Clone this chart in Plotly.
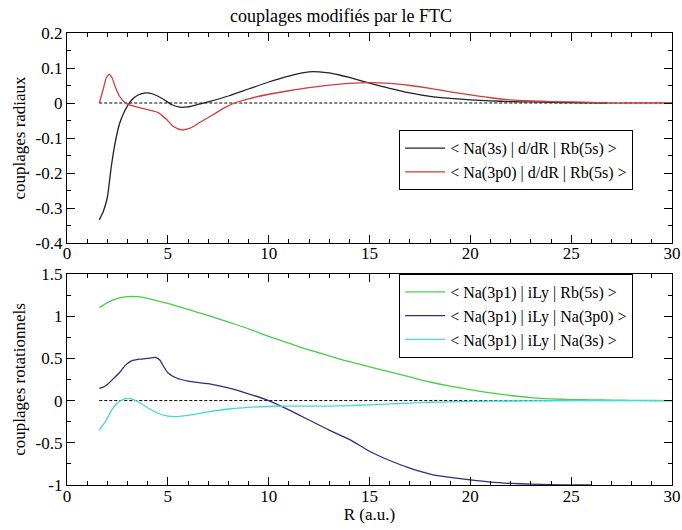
import plotly.graph_objects as go

# ---- data ----
x_na3s_rad = [1.6, 1.8, 2.0, 2.2, 2.4, 2.6, 2.8, 3.0, 3.2, 3.5, 3.9, 4.3, 4.8, 5.2, 5.6, 6.0, 6.5, 7.0,
              8, 9, 10, 11, 12, 12.5, 13, 13.5, 14, 15, 16, 17, 18, 19, 20, 21, 22, 23, 24, 25, 26, 26.8]
y_na3s_rad = [-0.334, -0.31, -0.27, -0.18, -0.11, -0.06, -0.03, -0.008, 0.008, 0.022, 0.029, 0.025, 0.01,
              -0.005, -0.012, -0.011, -0.004, 0.003, 0.02, 0.04, 0.06, 0.077, 0.089, 0.089, 0.086, 0.08,
              0.073, 0.057, 0.042, 0.029, 0.019, 0.013, 0.009, 0.006, 0.004, 0.003, 0.002, 0.001, 0.0005, 0.0]

x_na3p0_rad = [1.6, 1.8, 1.95, 2.1, 2.25, 2.4, 2.6, 2.8, 3.0, 3.5, 4.0, 4.5, 4.9, 5.3, 5.7, 6.1, 6.6, 7.2,
               7.8, 8.3, 9, 10, 11, 12, 13, 14, 15, 16, 17, 18, 19, 20, 21, 22, 23, 24, 25, 26, 27, 28, 29, 30]
y_na3p0_rad = [0.0, 0.04, 0.072, 0.082, 0.07, 0.045, 0.02, 0.005, -0.003, -0.012, -0.019, -0.027, -0.045,
               -0.068, -0.077, -0.072, -0.055, -0.035, -0.014, 0.0, 0.012, 0.025, 0.035, 0.044, 0.051,
               0.056, 0.058, 0.056, 0.05, 0.042, 0.032, 0.023, 0.015, 0.009, 0.006, 0.004, 0.003, 0.002,
               0.0, 0.0, 0.0, 0.0]

x_rb5s_rot = [1.6, 2.0, 2.5, 3.0, 3.5, 4.0, 4.5, 5, 6, 7, 8, 9, 10, 11, 12, 13, 14, 15, 16, 17, 18, 19,
              20, 21, 22, 23, 24, 25, 26, 27, 28, 29, 30]
y_rb5s_rot = [1.10, 1.16, 1.21, 1.23, 1.23, 1.21, 1.18, 1.15, 1.08, 1.01, 0.93, 0.85, 0.76, 0.68, 0.60,
              0.53, 0.46, 0.40, 0.34, 0.28, 0.22, 0.17, 0.13, 0.09, 0.06, 0.035, 0.02, 0.012, 0.008,
              0.005, 0.003, 0.001, 0.0]

x_na3p0_rot = [1.6, 1.8, 2.0, 2.3, 2.6, 2.9, 3.2, 3.6, 4.0, 4.4, 4.6, 4.8, 5.0, 5.4, 6.0, 7, 8, 9, 10,
               11, 12, 13, 14, 15, 16, 17, 18, 19, 20, 21, 22, 23, 24, 25, 26]
y_na3p0_rot = [0.145, 0.16, 0.19, 0.26, 0.33, 0.42, 0.47, 0.49, 0.5, 0.51, 0.48, 0.40, 0.33, 0.27, 0.23,
               0.2, 0.15, 0.08, 0.0, -0.11, -0.23, -0.35, -0.46, -0.6, -0.71, -0.8, -0.87, -0.91, -0.94,
               -0.965, -0.98, -0.99, -0.995, -1.0, -1.0]

x_na3s_rot = [1.6, 1.9, 2.2, 2.5, 2.8, 3.0, 3.3, 3.7, 4.1, 4.5, 5.0, 5.5, 6, 7, 8, 9, 10, 11, 12, 13, 14,
              15, 16, 17, 18, 19, 20, 22, 24, 26, 28, 30]
y_na3s_rot = [-0.35, -0.25, -0.12, -0.03, 0.015, 0.025, 0.01, -0.04, -0.1, -0.15, -0.185, -0.19, -0.175,
              -0.135, -0.1, -0.08, -0.07, -0.065, -0.065, -0.065, -0.06, -0.05, -0.04, -0.03, -0.02,
              -0.015, -0.01, -0.005, -0.002, 0.0, 0.0, 0.0]

zero_x = [1.6, 30]
zero_y = [0, 0]

names_top = ["< Na(3s) | d/dR | Rb(5s) >", "< Na(3p0) | d/dR | Rb(5s) >"]
names_bot = ["< Na(3p1) | iLy | Rb(5s) >", "< Na(3p1) | iLy | Na(3p0) >", "< Na(3p1) | iLy | Na(3s) >"]

FONT = "Liberation Serif"

fig = go.Figure()

def line(x, y, color, name, xa, ya, legend, show=True, dash="solid", width=1.3):
    fig.add_trace(go.Scatter(x=x, y=y, mode="lines", name=name, xaxis=xa, yaxis=ya,
                             line=dict(color=color, width=width, dash=dash, shape="spline", smoothing=0.6),
                             showlegend=show, legend=legend))

line(zero_x, zero_y, "black", "zero", "x", "y", "legend", show=False, dash="3px,2px", width=1)
line(x_na3s_rad, y_na3s_rad, "#222222", names_top[0], "x", "y", "legend")
line(x_na3p0_rad, y_na3p0_rad, "#d23c3c", names_top[1], "x", "y", "legend")

line(zero_x, zero_y, "black", "zero", "x2", "y2", "legend2", show=False, dash="3px,2px", width=1)
line(x_rb5s_rot, y_rb5s_rot, "#4ccc4c", names_bot[0], "x2", "y2", "legend2")
line(x_na3p0_rot, y_na3p0_rot, "#2e2e80", names_bot[1], "x2", "y2", "legend2")
line(x_na3s_rot, y_na3s_rot, "#44d8d8", names_bot[2], "x2", "y2", "legend2")

axis_common = dict(showline=True, linecolor="black", linewidth=1.2, mirror="ticks",
                   ticks="inside", ticklen=8, tickwidth=1.2, tickcolor="black",
                   showgrid=False, zeroline=False, automargin=False,
                   tickfont=dict(family=FONT, size=17, color="black"))

fig.update_layout(
    width=682, height=530,
    paper_bgcolor="white", plot_bgcolor="white",
    margin=dict(l=67, r=10, t=33, b=45),
    font=dict(family=FONT, size=16, color="black"),
    title=dict(text="couplages modifiés par le FTC", x=0.5, xanchor="center",
               yref="container", y=1 - 16 / 530, yanchor="middle",
               font=dict(family=FONT, size=18, color="black")),
    xaxis=dict(domain=[0, 1], range=[0, 30], dtick=5, anchor="y", ticklabelstandoff=-5,
               minor=dict(ticks="inside", ticklen=4, dtick=1, tickcolor="black"), **axis_common),
    yaxis=dict(domain=[0.5354, 1], range=[-0.4, 0.2], dtick=0.1, anchor="x",
               tickvals=[-0.4, -0.3, -0.2, -0.1, 0, 0.1, 0.2],
               ticktext=["-0.4", "-0.3", "-0.2", "-0.1", "0", "0.1", "0.2"],
               minor=dict(ticks="inside", ticklen=4, dtick=0.05, tickcolor="black"),
               title=dict(text="couplages radiaux", standoff=5, font=dict(family=FONT, size=17)),
               **axis_common),
    xaxis2=dict(domain=[0, 1], range=[0, 30], dtick=5, anchor="y2", ticklabelstandoff=-5,
                minor=dict(ticks="inside", ticklen=4, dtick=1, tickcolor="black"),
                title=dict(text="R (a.u.)", standoff=0, font=dict(family=FONT, size=17)),
                **axis_common),
    yaxis2=dict(domain=[0, 0.467], range=[-1, 1.5], anchor="x2",
                tickvals=[-1, -0.5, 0, 0.5, 1, 1.5], ticktext=["-1", "-0.5", "0", "0.5", "1", "1.5"],
                minor=dict(ticks="inside", ticklen=4, dtick=0.25, tickcolor="black"),
                title=dict(text="couplages rotationnels", standoff=5, font=dict(family=FONT, size=17)),
                **axis_common),
    legend=dict(x=0.549, y=0.785, xanchor="left", yanchor="top", bgcolor="white",
                bordercolor="black", borderwidth=1, font=dict(family=FONT, size=16),
                itemwidth=40, tracegroupgap=0),
    legend2=dict(x=0.549, y=0.467, xanchor="left", yanchor="top", bgcolor="white",
                 bordercolor="black", borderwidth=1, font=dict(family=FONT, size=16),
                 itemwidth=40, tracegroupgap=0),
)

# remove the browser's default 8px body margin so the figure fills the window exactly
fig.write_html("out.html", config={"displayModeBar": False},
               post_script="document.body.style.margin='0';")
